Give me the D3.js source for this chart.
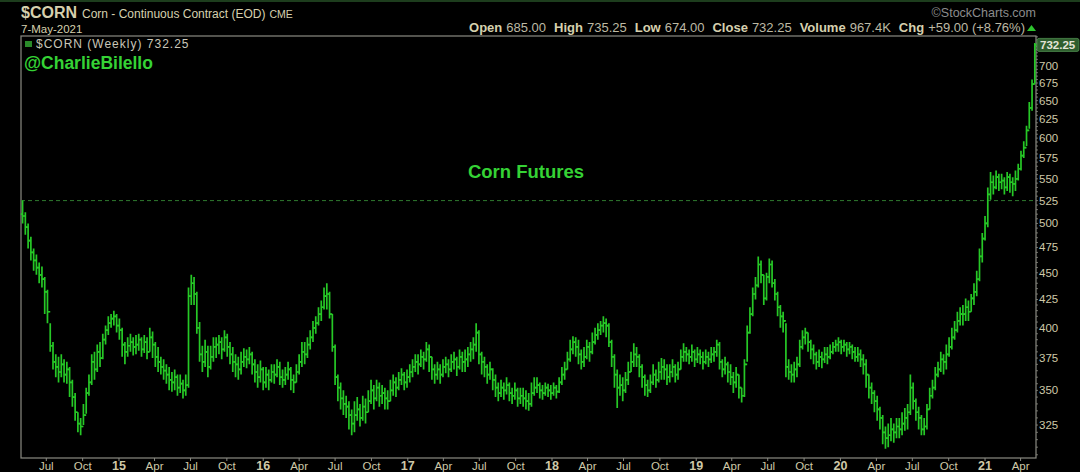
<!DOCTYPE html>
<meta charset="utf-8"/>
<title>$CORN - Weekly</title>
<style>
    body {
        margin: 0;
        background: #000;
    }

    text {
        font-family: "Liberation Sans", Arial, sans-serif;
    }

    .hdr {
        fill: #d6d0ae;
    }

    .val {
        fill: #bdb9a4;
    }

    .axis text {
        fill: #cfc9a8;
        font-size: 11.5px;
    }

    .bar {
        stroke: #26c826;
        stroke-width: 1.7px;
        fill: none;
    }
</style>
<script src="https://cdn.jsdelivr.net/npm/d3@7"></script>
<svg id="chart" width="1080" height="472"></svg>
<script>
    "use strict";

    // weekly bars, first week ending 2-May-2014, last 7-May-2021
    const firstWeek = new Date(2014, 4, 2);

    const closes = [
        508, 496, 482, 470, 462, 455, 448, 444, 432, 414,
        385, 372, 368, 364, 370, 362, 366, 356, 345, 334,
        326, 324, 332, 348, 356, 372, 366, 380, 375, 390,
        398, 404, 408, 410, 402, 398, 386, 380, 385, 388,
        384, 386, 390, 382, 388, 380, 392, 386, 376, 372,
        368, 365, 362, 358, 356, 360, 352, 355, 350, 354,
        428, 440, 430, 400, 378, 372, 380, 368, 376, 384,
        386, 388, 382, 392, 384, 378, 372, 370, 366, 372,
        376, 374, 378, 370, 364, 360, 366, 356, 362, 358,
        364, 362, 368, 360, 358, 362, 366, 358, 356, 364,
        372, 380, 378, 386, 392, 400, 404, 412, 418, 428,
        430, 412, 384, 360, 352, 344, 340, 338, 332, 326,
        332, 336, 330, 338, 334, 342, 350, 344, 352, 346,
        348, 344, 342, 350, 356, 352, 358, 362, 356, 360,
        364, 368, 372, 370, 376, 374, 382, 376, 366, 362,
        366, 362, 368, 370, 366, 372, 374, 368, 376, 372,
        374, 378, 382, 386, 396, 378, 372, 368, 362, 366,
        358, 352, 348, 352, 350, 354, 348, 346, 350, 344,
        346, 344, 342, 340, 348, 352, 354, 350, 348, 352,
        350, 348, 352, 349, 356, 362, 366, 374, 382, 388,
        384, 378, 372, 376, 384, 380, 388, 394, 398, 402,
        404, 402, 388, 376, 362, 352, 354, 350, 358, 364,
        372, 378, 376, 368, 360, 354, 350, 356, 362, 358,
        364, 368, 366, 360, 364, 368, 362, 366, 376, 380,
        378, 376, 380, 374, 378, 376, 372, 376, 374, 378,
        380, 386, 372, 366, 370, 364, 360, 356, 362, 352,
        346, 370, 396, 412, 430, 438, 458, 448, 426, 446,
        458, 440, 430, 418, 410, 406, 368, 364, 362, 366,
        370, 384, 392, 396, 388, 382, 378, 372, 376, 374,
        378, 376, 380, 384, 386, 388, 384, 386, 382, 384,
        380, 376, 378, 374, 370, 362, 352, 348, 342, 336,
        330, 320, 316, 318, 322, 320, 324, 322, 326, 330,
        334, 352, 342, 334, 330, 322, 324, 336, 346, 352,
        362, 366, 374, 372, 378, 384, 392, 398, 406, 412,
        412, 418, 414, 426, 432, 444, 466, 484, 500, 532,
        546, 540, 552, 546, 548, 540, 552, 546, 544, 550,
        562, 578, 588, 610, 640, 673.25, 732.25
    ];

    const highs = [
        525, 512, 500, 486, 474, 468, 460, 456, 446, 434,
        404, 388, 378, 376, 378, 374, 372, 368, 358, 348,
        334, 330, 340, 352, 362, 378, 380, 386, 388, 395,
        402, 410, 412, 415, 412, 408, 400, 388, 392, 395,
        392, 394, 395, 392, 394, 392, 400, 397, 388, 384,
        376, 374, 370, 368, 364, 366, 362, 362, 358, 362,
        436, 448, 446, 432, 405, 385, 390, 385, 385, 392,
        392, 394, 392, 398, 395, 388, 384, 378, 376, 380,
        383, 382, 384, 380, 374, 370, 373, 368, 368, 366,
        370, 370, 374, 372, 366, 368, 372, 368, 362, 370,
        378, 388, 388, 392, 398, 406, 410, 418, 424, 436,
        440, 432, 412, 386, 362, 356, 350, 346, 342, 336,
        342, 345, 340, 346, 344, 350, 358, 354, 358, 356,
        354, 352, 350, 358, 362, 360, 364, 367, 364, 366,
        370, 374, 378, 378, 382, 380, 388, 386, 376, 370,
        372, 370, 374, 376, 374, 378, 380, 376, 382, 380,
        382, 384, 388, 392, 404, 398, 380, 376, 370, 372,
        367, 362, 356, 358, 356, 360, 356, 352, 356, 352,
        352, 352, 350, 348, 356, 360, 360, 356, 354, 356,
        355, 354, 356, 354, 360, 368, 372, 380, 390, 393,
        392, 390, 382, 384, 390, 388, 396, 400, 404, 406,
        410, 408, 404, 390, 378, 366, 362, 360, 364, 372,
        380, 387, 384, 378, 370, 362, 358, 362, 370, 366,
        372, 375, 374, 370, 370, 374, 370, 372, 382, 387,
        384, 382, 386, 382, 384, 382, 380, 382, 380, 384,
        384, 390, 388, 374, 376, 372, 370, 364, 368, 362,
        352, 374, 402, 418, 436, 446, 466, 462, 448, 450,
        464, 462, 444, 432, 420, 414, 404, 374, 370, 372,
        376, 390, 398, 400, 396, 390, 386, 380, 382, 380,
        384, 384, 386, 388, 390, 392, 390, 390, 388, 388,
        386, 384, 384, 382, 378, 374, 362, 356, 350, 346,
        338, 332, 324, 326, 330, 326, 330, 330, 334, 337,
        340, 362, 356, 344, 338, 332, 330, 340, 352, 358,
        368, 372, 380, 378, 386, 392, 400, 406, 414, 418,
        420, 426, 424, 430, 440, 452, 474, 490, 508, 540,
        558, 554, 560, 556, 556, 552, 558, 556, 552, 560,
        568, 584, 596, 616, 648, 680, 735.25
    ];

    const lows = [
        500, 488, 474, 462, 452, 448, 440, 436, 412, 404,
        380, 366, 360, 356, 360, 356, 355, 345, 338, 328,
        320, 318, 325, 333, 346, 354, 358, 364, 368, 374,
        386, 394, 400, 402, 396, 390, 376, 370, 376, 380,
        377, 378, 381, 376, 379, 374, 380, 375, 368, 364,
        362, 358, 355, 350, 349, 350, 346, 348, 344, 346,
        352, 420, 420, 395, 372, 364, 368, 360, 366, 372,
        375, 378, 374, 380, 376, 370, 364, 360, 358, 362,
        368, 367, 370, 362, 356, 352, 356, 350, 352, 350,
        356, 355, 360, 354, 352, 354, 358, 350, 348, 356,
        362, 368, 370, 375, 382, 388, 395, 402, 406, 416,
        416, 408, 380, 354, 342, 336, 332, 330, 322, 318,
        320, 328, 324, 328, 326, 334, 340, 336, 342, 338,
        340, 336, 336, 342, 346, 345, 350, 354, 350, 352,
        356, 360, 364, 362, 368, 366, 372, 364, 358, 355,
        358, 355, 360, 363, 360, 364, 366, 361, 366, 364,
        364, 368, 372, 374, 380, 370, 362, 360, 355, 358,
        350, 345, 342, 345, 343, 347, 342, 340, 343, 338,
        340, 338, 336, 335, 338, 346, 348, 344, 343, 346,
        345, 343, 346, 344, 348, 354, 358, 366, 372, 378,
        376, 370, 366, 368, 374, 372, 378, 386, 390, 394,
        396, 392, 384, 368, 352, 337, 346, 342, 348, 354,
        364, 368, 368, 360, 352, 346, 345, 348, 354, 352,
        356, 358, 358, 354, 356, 360, 356, 358, 366, 372,
        372, 370, 372, 368, 371, 370, 366, 370, 368, 371,
        372, 376, 366, 360, 362, 356, 354, 348, 352, 344,
        341, 345, 372, 395, 410, 425, 436, 440, 420, 424,
        440, 436, 424, 410, 400, 396, 360, 358, 356, 356,
        360, 368, 382, 386, 380, 374, 370, 366, 368, 367,
        371, 370, 374, 378, 380, 380, 378, 380, 376, 378,
        374, 372, 372, 368, 362, 352, 344, 340, 334, 328,
        322, 312, 309, 310, 314, 313, 316, 316, 318, 321,
        322, 332, 336, 328, 322, 318, 318, 322, 336, 344,
        350, 360, 364, 362, 366, 376, 382, 390, 396, 402,
        402, 406, 406, 414, 420, 428, 442, 460, 482, 496,
        526, 532, 538, 536, 538, 532, 536, 534, 530, 536,
        548, 560, 575, 590, 612, 636, 674
    ];

    const priceTicks = [325, 350, 375, 400, 425, 450, 475, 500, 525, 550, 575, 600, 625, 650, 675, 700];
    const refLevel = 525;
    const lastClose = 732.25;

    const quote = [
        ["Open", "685.00"], ["High", "735.25"], ["Low", "674.00"],
        ["Close", "732.25"], ["Volume", "967.4K"], ["Chg", "+59.00 (+8.76%)"]
    ];

    const monthNames = ["Jan", "Feb", "Mar", "Apr", "May", "Jun", "Jul", "Aug", "Sep", "Oct", "Nov", "Dec"];

    const plotLeft = 21, plotRight = 1036, plotTop = 36, plotBottom = 458;

    const svg = d3.select("#chart");

    const weeks = closes.map(function (c, i)
    {
        return {
            date: d3.timeDay.offset(firstWeek, 7 * i),
            open: i > 0 ? closes[i - 1] : 510,
            close: c,
            high: highs[i],
            low: lows[i]
        };
    });

    const x = d3.scaleTime()
        .domain([new Date(2014, 3, 28), new Date(2021, 4, 10)])
        .range([plotLeft, plotRight]);

    const y = d3.scaleLog()
        .domain([302.9, 746.3])
        .range([plotBottom, plotTop]);

    svg.append("rect").attr("width", 1080).attr("height", 472).attr("fill", "#000");
    svg.append("rect").attr("width", 1080).attr("height", 2).attr("fill", "#1d3d1d");

    // header
    const h1 = svg.append("text").attr("x", plotLeft).attr("y", 18);
    h1.append("tspan").attr("class", "hdr").attr("font-weight", "bold").attr("font-size", 16).text("$CORN");
    h1.append("tspan").attr("class", "hdr").attr("font-size", 12).attr("dx", 5).text("Corn - Continuous Contract (EOD)");
    h1.append("tspan").attr("class", "hdr").attr("font-size", 10.5).attr("dx", 4).text("CME");

    svg.append("text").attr("class", "hdr").attr("x", plotLeft).attr("y", 33)
        .attr("font-size", 11.5).text("7-May-2021");

    svg.append("text").attr("x", plotRight).attr("y", 17).attr("text-anchor", "end")
        .attr("fill", "#8c8c8c").attr("font-size", 12.5).text("\u00a9StockCharts.com");

    const q = svg.append("text").attr("x", 1025).attr("y", 32).attr("text-anchor", "end").attr("font-size", 13);
    quote.forEach(function (d, i)
    {
        q.append("tspan").attr("class", "hdr").attr("font-weight", "bold").attr("dx", i ? 8 : 0).text(d[0]);
        q.append("tspan").attr("class", "val").attr("dx", 4).text(d[1]);
    });
    svg.append("path").attr("d", "M1027,31 L1036,31 L1031.5,25 Z").attr("fill", "#2ec42e");

    // plot frame
    svg.append("rect")
        .attr("x", plotLeft).attr("y", plotTop)
        .attr("width", plotRight - plotLeft).attr("height", plotBottom - plotTop)
        .attr("fill", "none").attr("stroke", "#8a8a82").attr("stroke-width", 1.2);

    // reference level
    svg.append("line")
        .attr("x1", plotLeft).attr("x2", plotRight)
        .attr("y1", y(refLevel)).attr("y2", y(refLevel))
        .attr("stroke", "#2f7a2f").attr("stroke-dasharray", "4,3").attr("stroke-width", 1);

    // labels inside the plot
    svg.append("rect").attr("x", 25).attr("y", 41).attr("width", 7).attr("height", 6).attr("fill", "#2a8a2a");
    svg.append("text").attr("x", 36).attr("y", 48).attr("fill", "#c9c6b8")
        .attr("font-family", "DejaVu Sans").attr("font-size", 12).attr("letter-spacing", 1)
        .text("$CORN (Weekly) " + lastClose.toFixed(2));

    svg.append("text").attr("x", 24).attr("y", 69).attr("fill", "#35d235")
        .attr("font-weight", "bold").attr("font-size", 17.5).text("@CharlieBilello");

    svg.append("text").attr("x", 526).attr("y", 178).attr("text-anchor", "middle").attr("fill", "#35d235")
        .attr("font-weight", "bold").attr("font-size", 18.5).text("Corn Futures");

    // weekly OHLC bars
    const bars = svg.append("g").attr("class", "bar");
    bars.selectAll("path")
        .data(weeks)
        .enter()
        .append("path")
        .attr("d", function (d)
        {
            const cx = x(d.date);
            return "M" + cx + "," + y(d.high) + "V" + y(d.low)
                + "M" + (cx - 1.8) + "," + y(d.open) + "H" + cx
                + "M" + cx + "," + y(d.close) + "H" + (cx + 1.8);
        });

    // price axis
    const yAxis = svg.append("g").attr("class", "axis");
    const minor = d3.range(305, 746, 5);
    yAxis.selectAll("line.minor")
        .data(minor)
        .enter()
        .append("line")
        .attr("x1", plotRight).attr("x2", plotRight + 2)
        .attr("y1", function (d) { return y(d); })
        .attr("y2", function (d) { return y(d); })
        .attr("stroke", "#8a8a82").attr("stroke-width", 0.8);

    yAxis.selectAll("text")
        .data(priceTicks)
        .enter()
        .append("text")
        .attr("x", plotRight + 3)
        .attr("y", function (d) { return y(d) + 4; })
        .text(function (d) { return d; });

    svg.append("rect")
        .attr("x", plotRight + 1).attr("y", y(lastClose) - 6.5)
        .attr("width", 42).attr("height", 13).attr("rx", 2)
        .attr("fill", "#2f5e2f").attr("stroke", "#4f8f4f").attr("stroke-width", 0.8);
    svg.append("text")
        .attr("x", plotRight + 4).attr("y", y(lastClose) + 4.5)
        .attr("fill", "#e4e4d8").attr("font-size", 11.5).attr("font-weight", "bold")
        .text(lastClose.toFixed(2));

    // time axis: quarterly, January shows the two-digit year
    const months = d3.timeMonths(new Date(2014, 6, 1), new Date(2021, 4, 2), 3);
    const xAxis = svg.append("g").attr("class", "axis");
    xAxis.selectAll("line")
        .data(months)
        .enter()
        .append("line")
        .attr("x1", function (d) { return x(d); })
        .attr("x2", function (d) { return x(d); })
        .attr("y1", plotBottom).attr("y2", plotBottom + 3)
        .attr("stroke", "#8a8a82");

    xAxis.selectAll("text")
        .data(months)
        .enter()
        .append("text")
        .attr("x", function (d) { return x(d); })
        .attr("y", 470)
        .attr("text-anchor", "middle")
        .attr("font-weight", function (d) { return d.getMonth() === 0 ? "bold" : null; })
        .style("font-size", function (d) { return d.getMonth() === 0 ? "12.5px" : null; })
        .text(function (d)
        {
            return d.getMonth() === 0 ? d3.timeFormat("%y")(d) : monthNames[d.getMonth()];
        });
</script>
